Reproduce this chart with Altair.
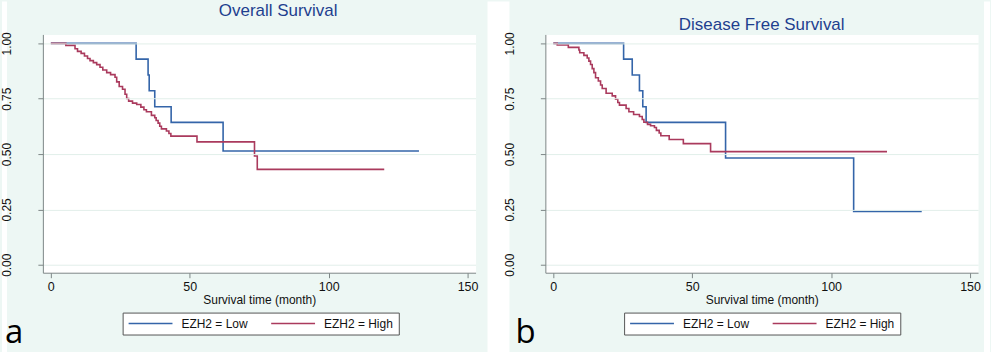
import altair as alt
import pandas as pd

# ---------------- data ----------------
groups = ["EZH2 = Low", "EZH2 = High"]
colors = ["#3465a9", "#aa3a5d"]
x_ticks = [0, 50, 100, 150]
y_ticks = [0, 0.25, 0.5, 0.75, 1.0]
titles = ["Overall Survival", "Disease Free Survival"]
letters = ["a", "b"]
x_title = "Survival time (month)"

# Overall survival
os_low_t = [0, 30.7, 35.0, 35.4, 37.4, 43.3, 62.0, 132.5]
os_low_s = [1.0, 0.929, 0.857, 0.786, 0.714, 0.643, 0.514, 0.514]
os_high_t = [0, 5.4, 8.7, 9.6, 10.9, 12.1, 13.2, 14.1, 15.3, 16.5, 17.7, 18.7, 20.1,
             21.5, 23.1, 23.7, 24.6, 25.8, 26.7, 27.3, 28.0, 29.4, 30.9, 32.4, 33.5,
             34.4, 36.2, 37.4, 37.9, 38.6, 39.2, 39.8, 41.6, 42.5, 43.2, 52.6, 73.3,
             74.3, 120.0]
os_high_s = [1.0, 0.991, 0.976, 0.964, 0.955, 0.943, 0.932, 0.922, 0.913, 0.904, 0.892,
             0.880, 0.868, 0.859, 0.847, 0.826, 0.805, 0.793, 0.770, 0.751, 0.739, 0.730,
             0.724, 0.712, 0.700, 0.691, 0.675, 0.664, 0.652, 0.640, 0.626, 0.614, 0.604,
             0.593, 0.581, 0.555, 0.491, 0.431, 0.431]

# Disease free survival
dfs_low_t = [0, 25.3, 28.4, 31.0, 32.2, 33.4, 62.0, 108.1, 132.6]
dfs_low_s = [1.0, 0.929, 0.857, 0.786, 0.714, 0.643, 0.482, 0.241, 0.241]
dfs_high_t = [0, 1.4, 5.4, 9.2, 9.5, 11.0, 12.2, 12.8, 13.4, 14.0, 14.6, 15.2, 16.2,
              17.0, 17.6, 19.0, 21.2, 22.4, 23.2, 23.8, 26.2, 27.2, 28.9, 31.0, 32.0,
              32.6, 33.9, 35.0, 36.4, 37.1, 38.1, 38.7, 41.7, 46.8, 56.6, 120.1]
dfs_high_s = [1.0, 0.993, 0.982, 0.970, 0.958, 0.946, 0.934, 0.920, 0.905, 0.886, 0.868,
              0.845, 0.830, 0.812, 0.796, 0.775, 0.763, 0.748, 0.733, 0.721, 0.706, 0.691,
              0.679, 0.670, 0.656, 0.644, 0.634, 0.628, 0.620, 0.607, 0.595, 0.583, 0.566,
              0.547, 0.511, 0.511]

# ---------------- styling ----------------
W, H = 434, 239
MINT = "#edf7f4"
AXIS_GRAY = "#7d8787"
TXT = "#111111"
FONT = "Liberation Sans"

x_scale = alt.Scale(domain=[-2.87, 152.87], nice=False, zero=False)
y_scale = alt.Scale(domain=[-0.036, 1.0405], nice=False, zero=False)
color_scale = alt.Scale(domain=groups, range=colors)


def make_legend(legend_x):
    return alt.Legend(
        title=None, orient="none", legendX=legend_x, legendY=279,
        direction="horizontal", symbolType="stroke", symbolSize=1936,
        symbolStrokeWidth=1.6, clipHeight=12, labelFont=FONT, labelFontSize=12,
        labelColor=TXT, labelOffset=8, columnPadding=22, padding=5,
        strokeColor="#555555", fillColor="white", labelLimit=300,
    )


def panel(idx, low_t, low_s, high_t, high_s, title_x, title_y, letter_x, legend_x, strips):
    low = pd.DataFrame({"t": low_t, "s": low_s, "group": groups[0]})
    high = pd.DataFrame({"t": high_t, "s": high_s, "group": groups[1]})

    x_enc = alt.X("t:Q", scale=x_scale, title=x_title,
                  axis=alt.Axis(values=x_ticks, format="d", tickSize=5, tickColor=AXIS_GRAY,
                                domainColor=AXIS_GRAY, labelFont=FONT, labelFontSize=12.5,
                                labelColor=TXT, labelPadding=3, labelFlush=False,
                                labelOverlap=False, titleFont=FONT, titleFontSize=12,
                                titleFontWeight="normal", titleColor=TXT, titlePadding=1,
                                grid=False, zindex=1))
    y_enc = alt.Y("s:Q", scale=y_scale, title=None,
                  axis=alt.Axis(values=y_ticks, format=".2f", tickSize=5, tickColor=AXIS_GRAY,
                                domainColor=AXIS_GRAY, labelFont=FONT, labelFontSize=12,
                                labelColor=TXT, labelAngle=270, labelAlign="center",
                                labelBaseline="alphabetic", labelPadding=27,
                                labelFlush=False, labelOverlap=False,
                                grid=True, gridColor="#e2efea", gridWidth=1, zindex=1))

    def line(df):
        return alt.Chart(df).mark_line(interpolate="step-after", strokeWidth=1.6).encode(
            x=x_enc, y=y_enc,
            color=alt.Color("group:N", scale=color_scale, legend=make_legend(legend_x)),
        )

    layers = []
    # decorative white strips outside the panels (page margins / gap)
    for (a, b) in strips:
        layers.append(
            alt.Chart(pd.DataFrame({"k": [0]})).mark_rect(color="white").encode(
                x=alt.value(a), x2=alt.value(b), y=alt.value(-33), y2=alt.value(319))
        )
    layers.append(line(low))
    layers.append(line(high))
    layers.append(
        alt.Chart(pd.DataFrame({"label": [titles[idx]]})).mark_text(
            font=FONT, fontSize=17, color="#1e3f8f", align="center", baseline="alphabetic"
        ).encode(x=alt.value(title_x), y=alt.value(title_y), text="label:N")
    )
    layers.append(
        alt.Chart(pd.DataFrame({"label": [letters[idx]]})).mark_text(
            font="Open Sans", fontSize=33, color="#000000", align="left", baseline="alphabetic"
        ).encode(x=alt.value(letter_x), y=alt.value(310), text="label:N")
    )
    return alt.layer(*layers).properties(width=W, height=H)


left = panel(0, os_low_t, os_low_s, os_high_t, os_high_s, 236, -18, -38, 80,
             strips=[(-41, -36), (446, 468)])
right = panel(1, dfs_low_t, dfs_low_s, dfs_high_t, dfs_high_s, 217, -4, -30, 79,
              strips=[(440, 446)])

chart = alt.hconcat(left, right, spacing=70, bounds="flush", padding=0).resolve_scale(
    color="independent").resolve_legend(color="independent").configure(
    background=MINT).configure_view(fill="white", stroke="transparent")

chart.save("out.html", embed_options={"renderer": "svg", "actions": False})
